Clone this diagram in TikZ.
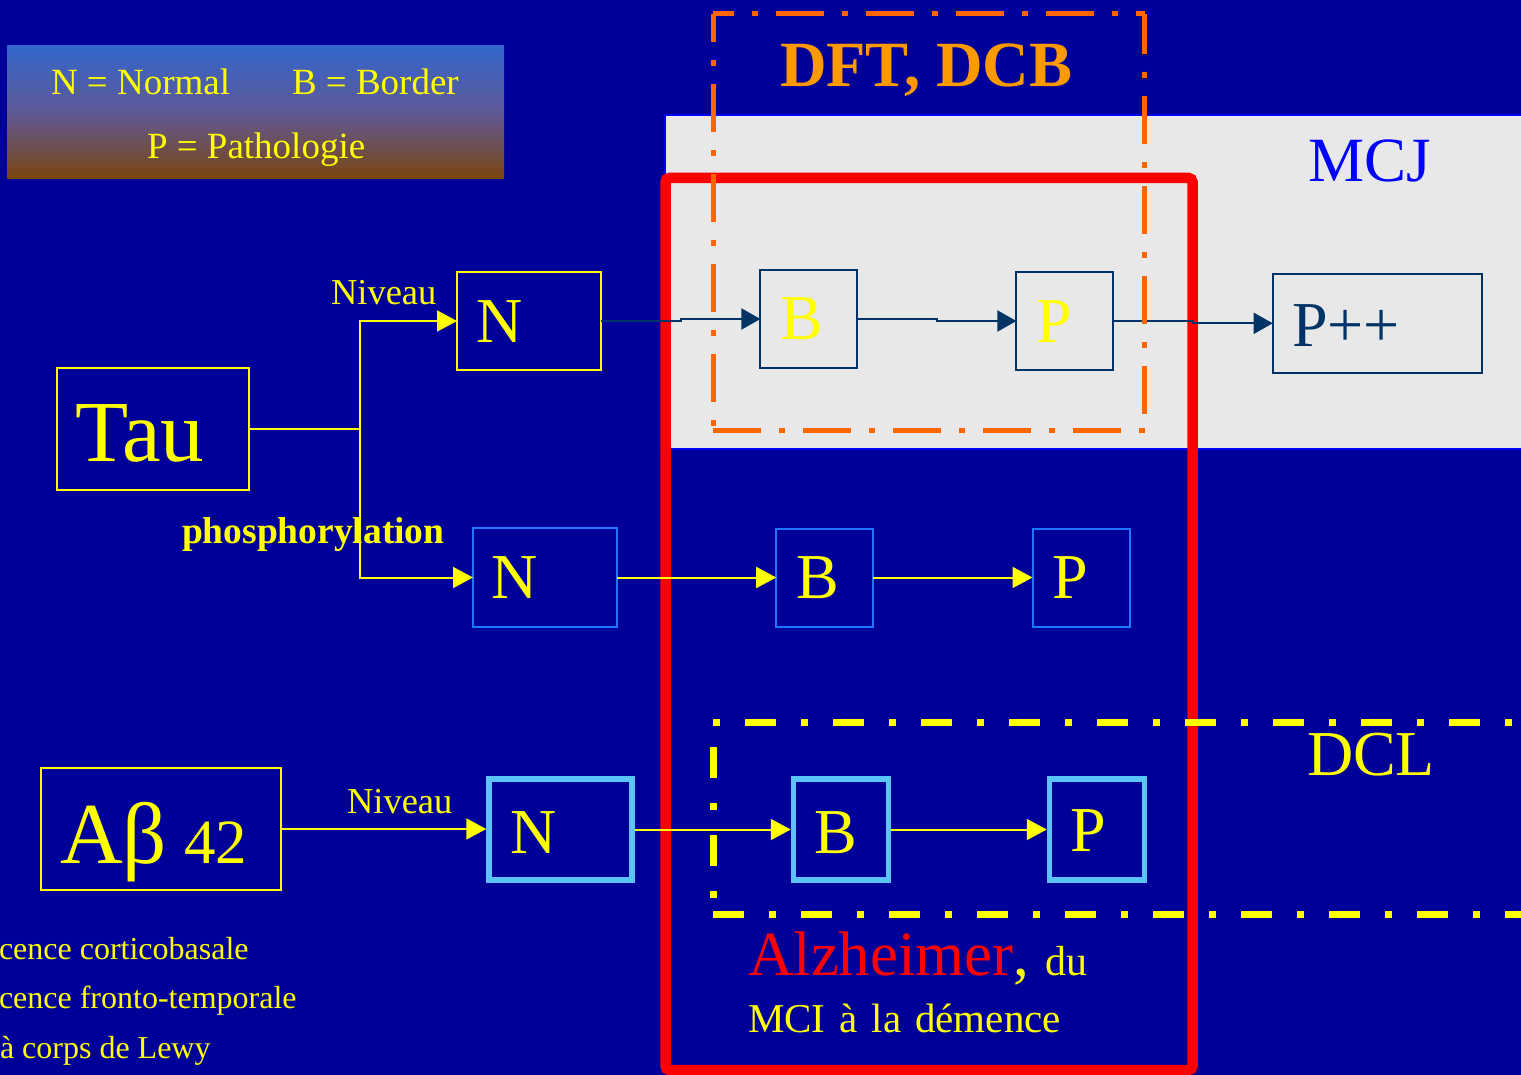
\documentclass[tikz,border=0pt]{standalone}
\usepackage{fontspec}
\setmainfont{Liberation Serif}
\usetikzlibrary{arrows.meta}
\definecolor{bgblue}{RGB}{0,0,153}
\definecolor{yel}{RGB}{255,255,0}
\definecolor{navy}{RGB}{0,51,102}
\definecolor{midblue}{RGB}{30,120,255}
\definecolor{lightblue}{RGB}{90,195,250}
\definecolor{lgray}{RGB}{232,232,232}
\definecolor{dashorange}{RGB}{255,102,0}
\definecolor{txtorange}{RGB}{255,153,0}
\definecolor{legtop}{RGB}{51,102,204}
\definecolor{legbot}{RGB}{122,70,14}
\definecolor{pureblue}{RGB}{0,0,255}
\definecolor{pured}{RGB}{255,0,0}
\newcommand\myfs[1]{\fontsize{#1}{#1}\selectfont}
\begin{document}
\begin{tikzpicture}[x=1pt,y=-1pt,
  txt/.style={anchor=base west, inner sep=0pt, outer sep=0pt, text=yel},
  ybox/.style={draw=yel, line width=2pt, inner sep=0pt, outer sep=0pt},
  nbox/.style={draw=navy, line width=2pt, inner sep=0pt, outer sep=0pt},
  mbox/.style={draw=midblue, line width=2pt, inner sep=0pt, outer sep=0pt},
  lbox/.style={draw=lightblue, line width=5.5pt, inner sep=0pt, outer sep=0pt},
  yarrow/.style={draw=yel, line width=2pt, -{Triangle[length=20pt,width=21pt]}},
  narrow/.style={draw=navy, line width=2pt, -{Triangle[length=19pt,width=21pt]}},
  orangeedge/.style={draw=dashorange, line width=5pt, dash pattern=on 48pt off 18pt on 6pt off 18pt},
  yellowedge/.style={draw=yel, line width=7pt, dash pattern=on 31pt off 25pt on 7pt off 25pt},
]
\useasboundingbox (0,0) rectangle (1521,1075);
\fill[bgblue] (0,0) rectangle (1521,1075);

% legend
\shade[top color=legtop, bottom color=legbot, middle color={rgb,255:red,95;green,88;blue,150}] (7,46) rectangle (504,179);
\node[txt] (legN) at (51,95) {\myfs{37}N = Normal};
\node[txt] (legB) at (292,95) {\myfs{37}B = Border};
\node[txt] (legP) at (147,159) {\myfs{37}P = Pathologie};

% gray MCJ band
\draw[draw=pureblue, line width=2pt, fill=lgray] (665,115) rectangle (1524,449);

% boxes
\node[ybox, minimum width=192, minimum height=122] (tau) at (153,429) {};
\node[ybox, minimum width=144, minimum height=98] (n1) at (529,321) {};
\node[nbox, minimum width=96.6, minimum height=98] (b1) at (808.7,319) {};
\node[nbox, minimum width=96.6, minimum height=98] (p1) at (1064.7,321) {};
\node[nbox, minimum width=209, minimum height=98.7] (pp) at (1377.2,323.3) {};
\node[mbox, minimum width=144, minimum height=98.5] (n2) at (545,577.5) {};
\node[mbox, minimum width=97, minimum height=98] (b2) at (824.7,577.5) {};
\node[mbox, minimum width=97, minimum height=98] (p2) at (1081,577.5) {};
\node[ybox, minimum width=240, minimum height=122] (ab) at (160.5,829) {};
\node[lbox, minimum width=143, minimum height=101] (n3) at (560.5,829.5) {};
\node[lbox, minimum width=95, minimum height=101] (b3) at (841,829.5) {};
\node[lbox, minimum width=95, minimum height=101] (p3) at (1097,829.5) {};

% box texts
\node[txt] (taut) at (75,461) {\myfs{87}Tau};
\node[txt] (n1t) at (476,343) {\myfs{64}N};
\node[txt] (b1t) at (780,340) {\myfs{64}B};
\node[txt] (p1t) at (1036,342) {\myfs{64}P};
\node[txt, text=navy] (ppt) at (1292,347) {\myfs{64}P++};
\node[txt] (n2t) at (491,598) {\myfs{64}N};
\node[txt] (b2t) at (796,598) {\myfs{64}B};
\node[txt] (p2t) at (1052,598) {\myfs{64}P};
\node[txt] (abt) at (60,863) {\myfs{87}Aβ\hspace{17pt}{\myfs{63}42}};
\node[txt] (n3t) at (510,853) {\myfs{64}N};
\node[txt] (b3t) at (814,853) {\myfs{64}B};
\node[txt] (p3t) at (1070,851) {\myfs{64}P};

% labels
\node[txt] (niv1) at (331,305) {\myfs{36.5}Niveau};
\node[txt] (niv2) at (347,813) {\myfs{36.5}Niveau};
\node[txt] (phos) at (182,543) {\myfs{37.5}\bfseries phosphorylation};

% red Alzheimer box
\draw[draw=pured, line width=10.5pt, rounded corners=4pt] (665.5,178) rectangle (1192.5,1070);

% connectors
\coordinate (j) at (359.6,429);
\draw[draw=yel, line width=2pt] (tau.east) -- (j);
\draw[yarrow] (j) |- (n1.west);
\draw[yarrow] (j) |- (n2.west);
\draw[narrow] (n1.east) -| (681,319) -- (b1.west);
\draw[narrow] (b1.east) -| (937,321) -- (p1.west);
\draw[narrow] (p1.east) -| (1193,323.3) -- (pp.west);
\draw[yarrow] (n2.east) -- (b2.west);
\draw[yarrow] (b2.east) -- (p2.west);
\draw[yarrow, shorten >=2.75pt] (ab.east) -- (ab.east -| n3.west);
\draw[yarrow, shorten >=2.75pt, shorten <=2.75pt] (n3.east) -- (b3.west);
\draw[yarrow, shorten >=2.75pt, shorten <=2.75pt] (b3.east) -- (p3.west);

% orange dash-dot box (DFT, DCB)
\coordinate (oa) at (713,14);
\coordinate (ob) at (1144.5,14);
\coordinate (oc) at (1144.5,430);
\coordinate (od) at (713,430);
\draw[orangeedge, dash phase=27pt] (oa) -- (ob);
\draw[orangeedge, dash phase=20pt] (oa) -- (od);
\draw[orangeedge] (od) -- (oc);
\draw[orangeedge, dash phase=8pt] (ob) -- (oc);

% yellow dash-dot box (DCL)
\coordinate (ya) at (713,722);
\coordinate (yb) at (1521,722);
\coordinate (yc) at (1521,914);
\coordinate (yd) at (713,914);
\draw[yellowedge, dash pattern=on 7pt off 25pt on 31pt off 25pt] (ya) -- (yb);
\draw[yellowedge, dash pattern=on 7pt off 25pt on 31pt off 25pt, dash phase=7pt] (ya) -- (yd);
\draw[yellowedge] (yd) -- (yc);

% group titles
\node[txt, text=txtorange] (dft) at (780,87) {\myfs{64.5}\bfseries DFT, DCB};
\node[txt, text=pureblue] (mcj) at (1308,182) {\myfs{63}MCJ};
\node[txt] (dcl) at (1307,775) {\myfs{64}DCL};
\node[txt] (alz) at (748,975) {\myfs{63}\textcolor{pured}{Alzheimer},\hspace{16pt}{\myfs{42}du}};
\node[txt] (mci) at (748,1032) {\myfs{41}\spaceskip=14pt MCI à la démence};

% cut-off texts at bottom left
\node[txt] (dcb) at (-1,959) {\myfs{32}cence corticobasale};
\node[txt] (dft2) at (-1,1008) {\myfs{32}cence fronto-temporale};
\node[txt] (dcl2) at (0,1058) {\myfs{32}à corps de Lewy};
\end{tikzpicture}
\end{document}
